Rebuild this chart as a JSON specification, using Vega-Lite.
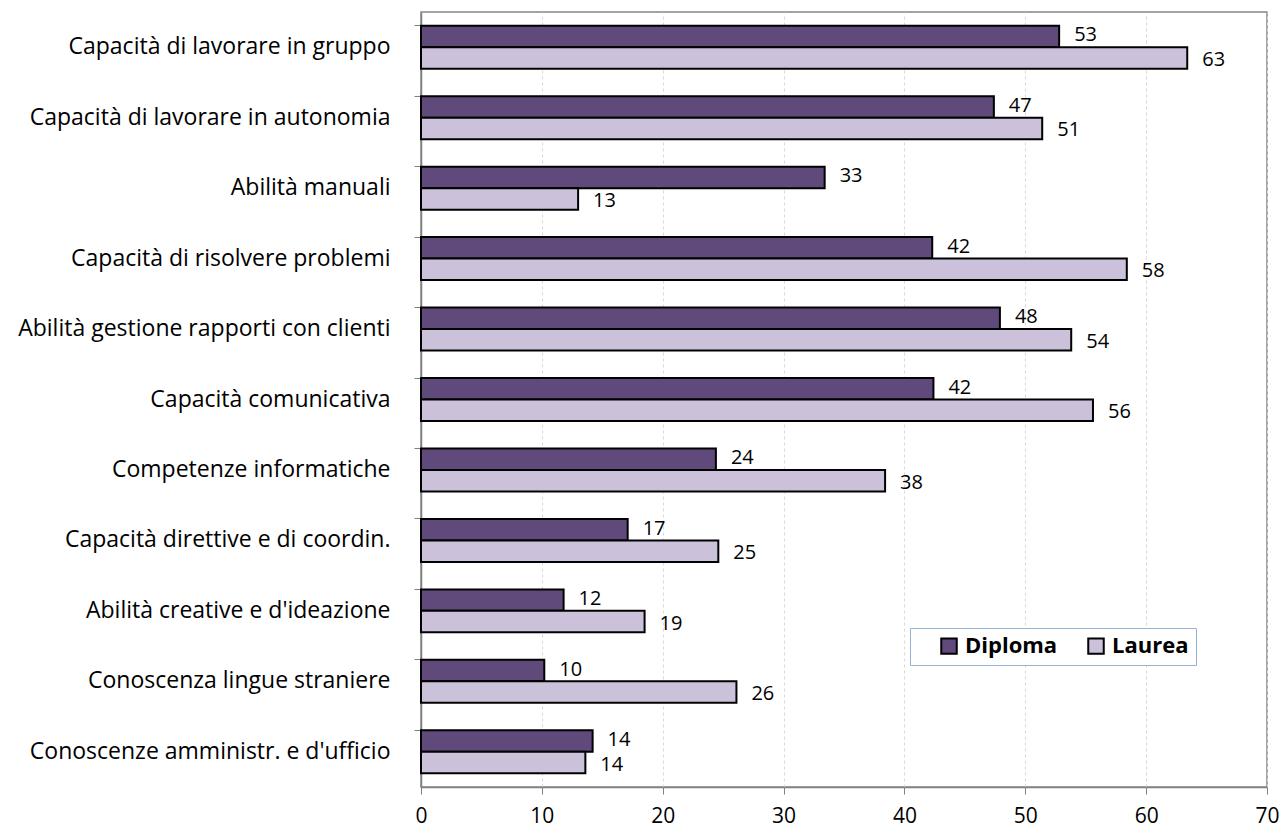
{
  "$schema": "https://vega.github.io/schema/vega-lite/v6.json",
  "width": 846,
  "height": 775,
  "autosize": {"type": "none"},
  "padding": {"left": 421, "top": 12, "right": 16, "bottom": 44},
  "background": "white",
  "config": {
    "view": {"stroke": "#878787", "strokeWidth": 1.5},
    "font": "Open Sans"
  },
  "data": {
    "values": [
      {"cat": "Capacità di lavorare in gruppo", "series": "Diploma", "value": 52.8},
      {"cat": "Capacità di lavorare in gruppo", "series": "Laurea", "value": 63.4},
      {"cat": "Capacità di lavorare in autonomia", "series": "Diploma", "value": 47.4},
      {"cat": "Capacità di lavorare in autonomia", "series": "Laurea", "value": 51.4},
      {"cat": "Abilità manuali", "series": "Diploma", "value": 33.4},
      {"cat": "Abilità manuali", "series": "Laurea", "value": 13.0},
      {"cat": "Capacità di risolvere problemi", "series": "Diploma", "value": 42.3},
      {"cat": "Capacità di risolvere problemi", "series": "Laurea", "value": 58.4},
      {"cat": "Abilità gestione rapporti con clienti", "series": "Diploma", "value": 47.9},
      {"cat": "Abilità gestione rapporti con clienti", "series": "Laurea", "value": 53.8},
      {"cat": "Capacità comunicativa", "series": "Diploma", "value": 42.4},
      {"cat": "Capacità comunicativa", "series": "Laurea", "value": 55.6},
      {"cat": "Competenze informatiche", "series": "Diploma", "value": 24.4},
      {"cat": "Competenze informatiche", "series": "Laurea", "value": 38.4},
      {"cat": "Capacità direttive e di coordin.", "series": "Diploma", "value": 17.1},
      {"cat": "Capacità direttive e di coordin.", "series": "Laurea", "value": 24.6},
      {"cat": "Abilità creative e d'ideazione", "series": "Diploma", "value": 11.8},
      {"cat": "Abilità creative e d'ideazione", "series": "Laurea", "value": 18.5},
      {"cat": "Conoscenza lingue straniere", "series": "Diploma", "value": 10.2},
      {"cat": "Conoscenza lingue straniere", "series": "Laurea", "value": 26.1},
      {"cat": "Conoscenze amministr. e d'ufficio", "series": "Diploma", "value": 14.2},
      {"cat": "Conoscenze amministr. e d'ufficio", "series": "Laurea", "value": 13.6}
    ]
  },
  "encoding": {
    "y": {
      "field": "cat",
      "type": "nominal",
      "sort": null,
      "scale": {"paddingInner": 0.39, "paddingOuter": 0.195},
      "axis": {
        "title": null,
        "domainColor": "#808080",
        "domainWidth": 1.5,
        "tickColor": "#808080",
        "tickSize": 7,
        "bandPosition": 0,
        "labelFontSize": 23,
        "labelColor": "black",
        "labelPadding": 24,
        "labelLimit": 600,
        "grid": false
      }
    },
    "yOffset": {"field": "series", "type": "nominal", "sort": ["Diploma", "Laurea"]},
    "x": {
      "field": "value",
      "type": "quantitative",
      "scale": {"domain": [0, 70], "nice": false},
      "axis": {
        "title": null,
        "values": [0, 10, 20, 30, 40, 50, 60, 70],
        "labelFontSize": 21,
        "labelColor": "black",
        "labelPadding": 11,
        "labelFlush": false,
        "tickSize": 7,
        "tickColor": "#808080",
        "domainColor": "#808080",
        "domainWidth": 1.5,
        "grid": true,
        "gridColor": "#d9d9d9",
        "gridDash": [3, 3]
      }
    }
  },
  "layer": [
    {
      "mark": {"type": "bar", "stroke": "black", "strokeWidth": 2},
      "encoding": {
        "color": {
          "field": "series",
          "type": "nominal",
          "scale": {"domain": ["Diploma", "Laurea"], "range": ["#604A7B", "#CCC1DA"]},
          "legend": {
            "orient": "none",
            "legendX": 489,
            "legendY": 616,
            "direction": "horizontal",
            "title": null,
            "strokeColor": "#95B3D7",
            "fillColor": "white",
            "padding": 7,
            "symbolType": "square",
            "symbolSize": 240,
            "symbolStrokeColor": "black",
            "symbolStrokeWidth": 2,
            "symbolOpacity": 1,
            "symbolOffset": 21,
            "labelFontSize": 22,
            "labelFontWeight": "bold",
            "labelColor": "black",
            "labelOffset": 5,
            "columnPadding": 6
          }
        }
      }
    },
    {
      "transform": [{"filter": "datum.series === 'Diploma'"}],
      "mark": {"type": "text", "align": "left", "baseline": "middle", "dx": 15, "dy": -1, "fontSize": 20, "color": "black"},
      "encoding": {"text": {"field": "value", "type": "quantitative", "format": ".0f"}}
    },
    {
      "transform": [{"filter": "datum.series === 'Laurea'"}],
      "mark": {"type": "text", "align": "left", "baseline": "middle", "dx": 15, "dy": 2, "fontSize": 20, "color": "black"},
      "encoding": {"text": {"field": "value", "type": "quantitative", "format": ".0f"}}
    }
  ]
}
